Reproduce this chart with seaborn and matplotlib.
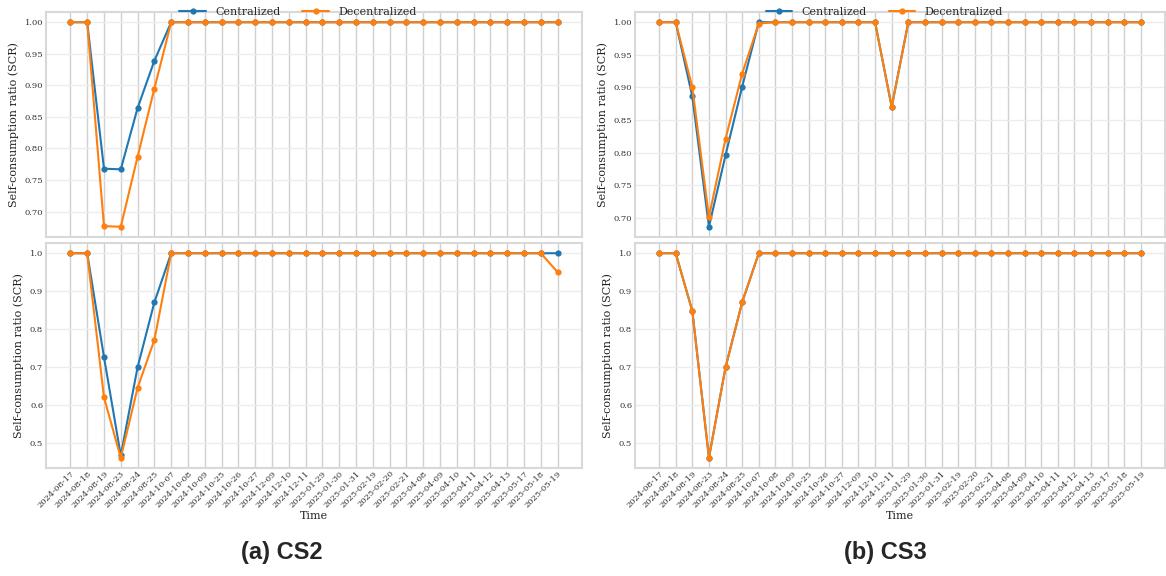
import matplotlib
matplotlib.use("Agg")
import matplotlib.pyplot as plt
import seaborn as sns
import pandas as pd

dates = ["2024-08-17", "2024-08-18", "2024-08-19", "2024-08-23", "2024-08-24", "2024-08-25",
         "2024-10-07", "2024-10-08", "2024-10-09", "2024-10-25", "2024-10-26", "2024-10-27",
         "2024-12-09", "2024-12-10", "2024-12-11", "2025-01-29", "2025-01-30", "2025-01-31",
         "2025-02-19", "2025-02-20", "2025-02-21", "2025-04-08", "2025-04-09", "2025-04-10",
         "2025-04-11", "2025-04-12", "2025-04-13", "2025-05-17", "2025-05-18", "2025-05-19"]

ones24 = [1.0] * 24
cs2_top_cen = [1.0, 1.0, 0.768, 0.767, 0.864, 0.939] + ones24
cs2_top_dec = [1.0, 1.0, 0.677, 0.676, 0.787, 0.895] + ones24
cs2_bot_cen = [1.0, 1.0, 0.727, 0.468, 0.700, 0.871] + ones24
cs2_bot_dec = [1.0, 1.0, 0.621, 0.462, 0.646, 0.772] + [1.0] * 23 + [0.950]

cs3_top_cen = [1.0, 1.0, 0.886, 0.686, 0.796, 0.901, 1.0] + [1.0] * 7 + [0.870] + [1.0] * 15
cs3_top_dec = [1.0, 1.0, 0.900, 0.701, 0.821, 0.921, 0.998] + [1.0] * 7 + [0.870] + [1.0] * 15
cs3_bot_cen = [1.0, 1.0, 0.848, 0.462, 0.700, 0.871] + ones24
cs3_bot_dec = [1.0, 1.0, 0.848, 0.462, 0.700, 0.871] + ones24

series_names = ["Centralized", "Decentralized"]
panel_titles = ["(a) CS2", "(b) CS3"]
colors = ["#1f77b4", "#ff7f0e"]

sns.set_theme(style="whitegrid")
plt.rcParams["font.family"] = ["DejaVu Serif"]

W, H = 1166, 576
fig = plt.figure(figsize=(W / 100, H / 100), dpi=100)


def px_axes(x0, y0, x1, y1):
    return fig.add_axes([x0 / W, 1 - y1 / H, (x1 - x0) / W, (y1 - y0) / H])


def make_df(cen, dec):
    return pd.DataFrame({
        "Time": dates * 2,
        "SCR": cen + dec,
        "Method": [series_names[0]] * len(dates) + [series_names[1]] * len(dates),
    })


def style_ax(ax, show_x):
    ax.set_facecolor("white")
    ax.grid(axis="x", color="#d0d0d0", linewidth=1.0)
    ax.grid(axis="y", color="#ececec", linewidth=1.0)
    for s in ax.spines.values():
        s.set_color("#d8d8d8")
        s.set_linewidth(1.5)
    ax.tick_params(axis="y", labelsize=6, pad=2, colors="#333333", length=0)
    ax.tick_params(axis="x", length=0, pad=1)
    ax.set_ylabel("Self-consumption ratio (SCR)", fontsize=8, color="#222222", labelpad=4)
    if show_x:
        ax.set_xlabel("Time", fontsize=8, color="#222222", labelpad=1)
        for lab in ax.get_xticklabels():
            lab.set_rotation(45)
            lab.set_ha("right")
            lab.set_rotation_mode("anchor")
            lab.set_fontsize(6)
            lab.set_color("#333333")
    else:
        ax.set_xlabel("")
        ax.tick_params(axis="x", labelbottom=False)


panels = [
    (46, 582, (cs2_top_cen, cs2_top_dec), (cs2_bot_cen, cs2_bot_dec), 282, 0.47),
    (635, 1165, (cs3_top_cen, cs3_top_dec), (cs3_bot_cen, cs3_bot_dec), 885, 0.47),
]

for i, (x0, x1, top, bot, tx, lgx) in enumerate(panels):
    ax_top = px_axes(x0, 12, x1, 237)
    ax_bot = px_axes(x0, 243, x1, 468)
    for ax, (cen, dec), show_x in [(ax_top, top, False), (ax_bot, bot, True)]:
        df = make_df(cen, dec)
        sns.lineplot(data=df, x="Time", y="SCR", hue="Method", palette=colors,
                     marker="o", markersize=4.5, markeredgewidth=0, linewidth=1.5,
                     sort=False, ax=ax, legend=(ax is ax_top))
        style_ax(ax, show_x)
    leg = ax_top.legend(loc="center", bbox_to_anchor=(lgx, 1.0), ncol=2, frameon=False,
                        fontsize=8, handlelength=2.4, columnspacing=2.0, borderaxespad=0)
    fig.text(tx / W, 1 - 553 / H, panel_titles[i], ha="center", va="center",
             fontsize=17, fontweight="bold", family=["Liberation Sans", "DejaVu Sans"])

fig.savefig("out.png", dpi=100, facecolor="white")
